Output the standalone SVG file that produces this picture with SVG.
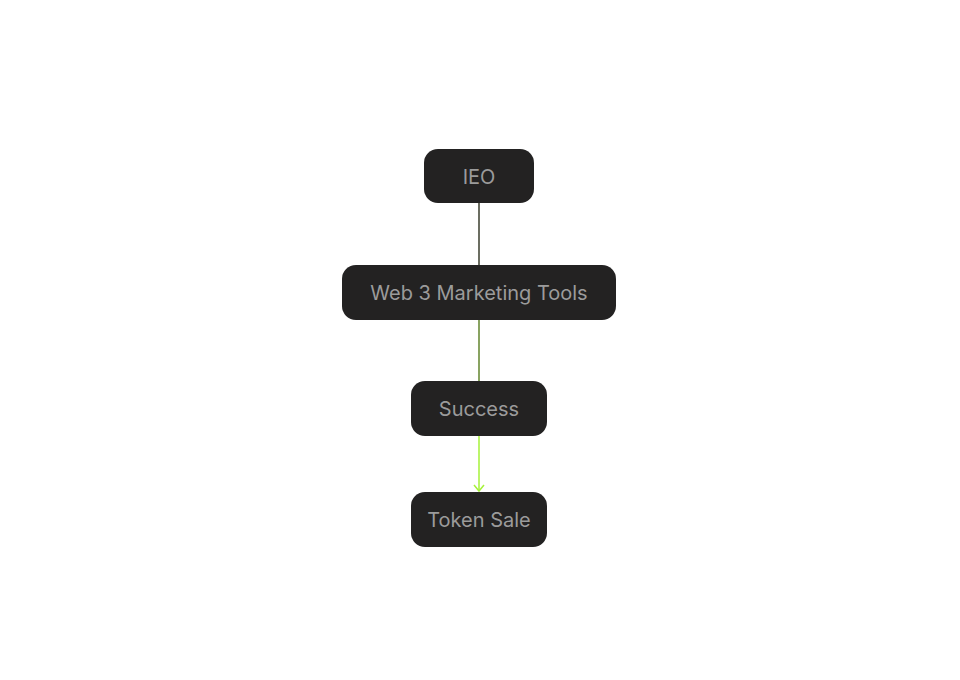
<svg xmlns="http://www.w3.org/2000/svg" width="960" height="680" viewBox="0 0 960 680">
<style>
.node rect{fill:#232222;}
.node text{fill:#9b9b9b;font-family:Inter,"Liberation Sans",sans-serif;font-size:20px;text-anchor:middle;dominant-baseline:central;}
.edge{fill:none;stroke-width:1.5;}
</style>
<defs>
<marker id="arr" viewBox="0 0 12 12" refX="10" refY="6" markerWidth="12" markerHeight="12" markerUnits="userSpaceOnUse" orient="auto">
<path d="M4 1 L10 6 L4 11" fill="none" stroke="#a6f23a" stroke-width="1.5"/>
</marker>
</defs>
<rect width="960" height="680" fill="#ffffff"/>
<g id="ieo" class="node"><rect x="424" y="149" width="110" height="54" rx="14"/><text x="479" y="177">IEO</text></g>
<g id="web3" class="node"><rect x="342" y="265" width="274" height="55" rx="14"/><text x="479" y="292.5">Web 3 Marketing Tools</text></g>
<g id="success" class="node"><rect x="411" y="381" width="136" height="55" rx="14"/><text x="479" y="408.5">Success</text></g>
<g id="token" class="node"><rect x="411" y="492" width="136" height="55" rx="14"/><text x="479" y="519.5">Token Sale</text></g>
<g id="connectors">
<line class="edge" x1="479" y1="203" x2="479" y2="265" stroke="#3a3d2c"/>
<line class="edge" x1="479" y1="320" x2="479" y2="381" stroke="#62842c"/>
<line class="edge" x1="479" y1="436" x2="479" y2="491" stroke="#a6f23a" marker-end="url(#arr)"/>
</g>
</svg>
